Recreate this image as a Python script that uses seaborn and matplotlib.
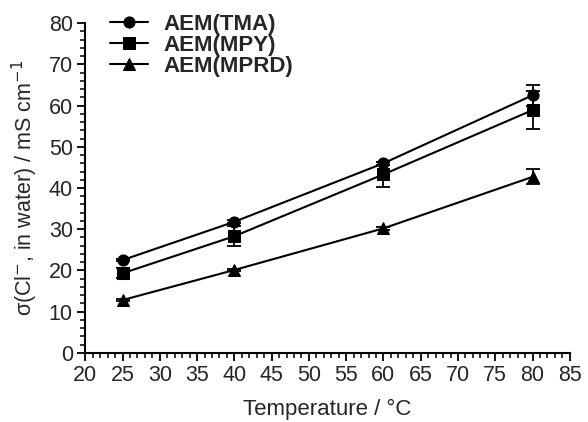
import numpy as np
import pandas as pd
import matplotlib
matplotlib.use("Agg")
import matplotlib.pyplot as plt
import seaborn as sns
from matplotlib.ticker import MultipleLocator

temperature = [25, 40, 60, 80]
tma = [22.5, 31.8, 46.0, 62.5]
tma_err = [0.3, 0.4, 0.4, 2.5]
mpy = [19.3, 28.3, 43.3, 58.9]
mpy_err = [1.2, 2.4, 3.0, 4.6]
mprd = [12.8, 20.1, 30.2, 42.7]
mprd_err = [0.3, 0.3, 0.3, 1.8]

series = [("AEM(TMA)", tma, tma_err, "o"),
          ("AEM(MPY)", mpy, mpy_err, "s"),
          ("AEM(MPRD)", mprd, mprd_err, "^")]

sns.set_style("ticks")
plt.rcParams['font.family'] = ['Liberation Sans', 'DejaVu Sans']

fig = plt.figure(figsize=(5.88, 4.22), dpi=100)
ax = fig.add_axes([0.145, 0.164, 0.824, 0.781])

rows = []
for name, vals, errs, mk in series:
    for t, v, e in zip(temperature, vals, errs):
        rows.append({"T": t, "val": v, "err": e, "series": name})
df = pd.DataFrame(rows)

sns.lineplot(data=df, x="T", y="val", hue="series", style="series",
             markers={"AEM(TMA)": "o", "AEM(MPY)": "s", "AEM(MPRD)": "^"},
             dashes=False, palette=["black"] * 3, markersize=8,
             linewidth=1.5, markeredgecolor="black", ax=ax)

for name, vals, errs, mk in series:
    ax.errorbar(temperature, vals, yerr=errs, fmt="none", ecolor="black",
                elinewidth=1.3, capsize=5, capthick=1.3)

ax.set_xlim(20, 85)
ax.set_ylim(0, 80)
ax.xaxis.set_major_locator(MultipleLocator(5))
ax.xaxis.set_minor_locator(MultipleLocator(1))
ax.yaxis.set_major_locator(MultipleLocator(10))
ax.yaxis.set_minor_locator(MultipleLocator(2))
ax.tick_params(axis="both", which="major", length=6, width=1.3, labelsize=15.5, color="black", pad=3)
ax.tick_params(axis="both", which="minor", length=3.5, width=1.1, color="black")
for s in ["left", "bottom"]:
    ax.spines[s].set_linewidth(1.5)
    ax.spines[s].set_color("black")
sns.despine(ax=ax)

ax.set_xlabel("Temperature / °C", fontsize=16, labelpad=9)
ax.set_ylabel(r"σ(Cl$^{-}$, in water) / mS cm$^{-1}$", fontsize=15.5, labelpad=6)

leg = ax.legend(loc="upper left", bbox_to_anchor=(0.01, 1.09), frameon=False,
                prop={"weight": "bold", "size": 16}, handlelength=1.7,
                labelspacing=0.0, handletextpad=0.7)

fig.savefig("out.png", dpi=100)
